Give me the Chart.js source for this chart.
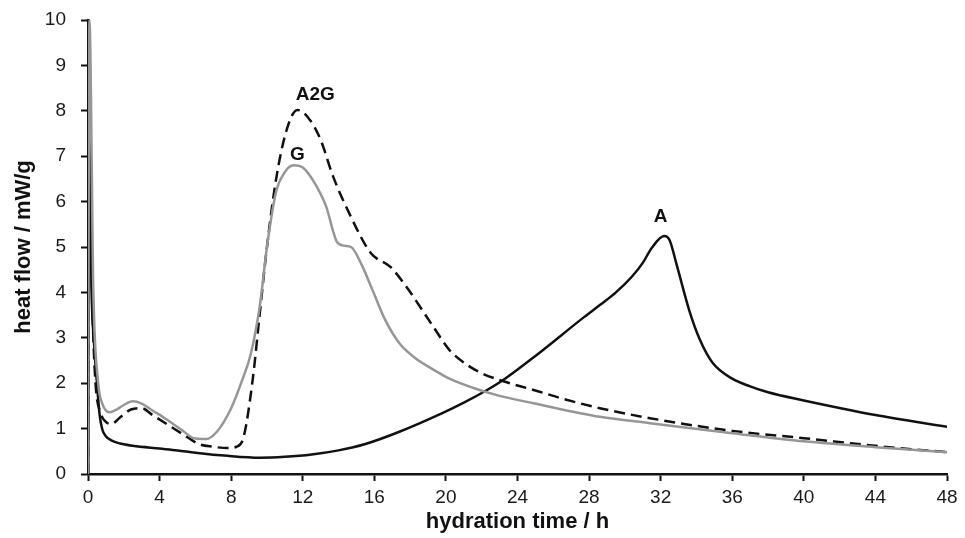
<!DOCTYPE html>
<html lang="en">
<head>
    <meta charset="UTF-8">
    <title>Heat flow vs hydration time</title>
    <script src="https://cdn.jsdelivr.net/npm/chart.js"></script>
    <style>
        body { margin: 0; background: #ffffff; }
        #wrap { width: 965px; height: 538px; }
    </style>
</head>
<body>
    <div id="wrap">
        <canvas id="heatChart" width="965" height="538"></canvas>
    </div>

    <script>
        // G (grey solid)
        const gTime = [0, 0.08, 0.3, 0.57, 0.8, 1.2, 1.6, 2.0, 2.5, 3.0, 3.6, 4.4, 5.2, 6.0, 6.6, 7.2, 8.0, 8.6, 9.1, 9.6, 10.0, 10.5, 11.0, 11.5, 12.0, 12.6, 13.3, 13.9, 14.3, 14.7, 15.3, 15.9, 16.6, 17.4, 18.3, 19.3, 20.2, 21.5, 23, 24.9, 28.6, 31.4, 36, 40, 44, 48];
        const gFlow = [0, 10, 4.0, 2.0, 1.55, 1.36, 1.42, 1.52, 1.6, 1.55, 1.4, 1.2, 0.98, 0.78, 0.77, 0.93, 1.45, 2.05, 2.65, 3.7, 5.0, 6.2, 6.65, 6.8, 6.75, 6.45, 5.9, 5.12, 5.03, 5.0, 4.6, 4.05, 3.4, 2.88, 2.55, 2.3, 2.1, 1.9, 1.72, 1.56, 1.26, 1.12, 0.9, 0.72, 0.59, 0.48];

        // A2G (black dashed)
        const a2gTime = [0, 0.08, 0.25, 0.42, 0.7, 1.0, 1.3, 1.8, 2.4, 3.0, 3.6, 4.4, 5.2, 6.2, 7.0, 7.8, 8.3, 8.7, 9.2, 9.6, 10.0, 10.5, 11.1, 11.7, 12.4, 13.0, 13.7, 14.6, 15.8, 16.9, 17.8, 19.3, 20.2, 21.2, 22.0, 23.0, 24.0, 25.0, 26.5, 28.6, 31.4, 36, 40, 44, 48];
        const a2gFlow = [0, 7.0, 3.6, 2.0, 1.35, 1.15, 1.1, 1.25, 1.42, 1.45, 1.3, 1.1, 0.9, 0.66, 0.6, 0.57, 0.6, 0.82, 2.07, 3.54, 5.0, 6.47, 7.58, 8.02, 7.8, 7.36, 6.55, 5.74, 4.87, 4.56, 4.12, 3.24, 2.73, 2.4, 2.22, 2.07, 1.95, 1.84, 1.66, 1.45, 1.23, 0.95, 0.79, 0.62, 0.48];

        // A (black solid)
        const aTime = [0, 0.06, 0.2, 0.35, 0.5, 0.65, 0.8, 1.0, 1.3, 1.8, 2.5, 4, 5, 6, 7.8, 9.6, 11, 12.5, 14, 15.5, 17.4, 19.8, 21, 22.3, 23.2, 25, 27.7, 28.6, 29.5, 30.4, 31.0, 31.5, 32.2, 32.5, 32.9, 33.6, 34.2, 34.9, 36, 37, 38, 40, 44, 48];
        const aFlow = [0, 7.4, 4.0, 2.8, 2.0, 1.3, 0.98, 0.83, 0.74, 0.67, 0.62, 0.56, 0.52, 0.47, 0.4, 0.36, 0.38, 0.43, 0.52, 0.66, 0.93, 1.34, 1.57, 1.85, 2.07, 2.6, 3.45, 3.72, 4.0, 4.35, 4.65, 4.98, 5.24, 5.15, 4.6, 3.6, 2.95, 2.45, 2.1, 1.93, 1.8, 1.62, 1.3, 1.04];

        // curve labels
        const tagText = ['A2G', 'G', 'A'];
        const tagTime = [12.7, 11.7, 32.0];
        const tagFlow = [8.35, 7.03, 5.66];

        const xTicks = { min: 0, max: 48, step: 4 };
        const yTicks = { min: 0, max: 10, step: 1 };

        function toPoints(xs, ys) {
            return xs.map((x, i) => ({ x: x, y: ys[i] }));
        }

        const curveTags = {
            id: 'curveTags',
            afterDatasetsDraw(chart) {
                const { ctx, scales } = chart;
                ctx.save();
                ctx.font = 'bold 19px "Liberation Sans", Arial, sans-serif';
                ctx.fillStyle = '#111';
                ctx.textAlign = 'center';
                ctx.textBaseline = 'middle';
                tagText.forEach((t, i) => {
                    ctx.fillText(t, scales.x.getPixelForValue(tagTime[i]), scales.y.getPixelForValue(tagFlow[i]));
                });
                ctx.restore();
            }
        };

        const tickFont = { family: '"Liberation Sans", Arial, sans-serif', size: 19 };
        const titleFont = { family: '"Liberation Sans", Arial, sans-serif', size: 22, weight: 'bold' };

        const ctx = document.getElementById('heatChart').getContext('2d');
        const heatChart = new Chart(ctx, {
            type: 'line',
            data: {
                datasets: [
                    {
                        label: 'G',
                        data: toPoints(gTime, gFlow),
                        borderColor: '#969696',
                        borderWidth: 2.5,
                        pointRadius: 0,
                        cubicInterpolationMode: 'monotone',
                        fill: false
                    },
                    {
                        label: 'A2G',
                        data: toPoints(a2gTime, a2gFlow),
                        borderColor: '#111',
                        borderWidth: 2.5,
                        borderDash: [11, 6],
                        pointRadius: 0,
                        cubicInterpolationMode: 'monotone',
                        fill: false
                    },
                    {
                        label: 'A',
                        data: toPoints(aTime, aFlow),
                        borderColor: '#111',
                        borderWidth: 2.5,
                        pointRadius: 0,
                        cubicInterpolationMode: 'monotone',
                        fill: false
                    }
                ]
            },
            options: {
                responsive: false,
                animation: false,
                devicePixelRatio: 1,
                layout: { padding: { left: 0, right: 18, top: 20, bottom: 0 } },
                plugins: {
                    legend: { display: false },
                    tooltip: { enabled: false }
                },
                scales: {
                    x: {
                        type: 'linear',
                        min: xTicks.min,
                        max: xTicks.max,
                        afterFit(scale) {
                            scale.height = 64;
                            scale.paddingLeft = 0;
                            scale.paddingRight = 0;
                        },
                        ticks: { stepSize: xTicks.step, color: '#1a1a1a', font: tickFont, padding: 5, maxRotation: 0 },
                        grid: { drawOnChartArea: false, drawTicks: true, tickLength: 7, tickWidth: 2, tickColor: '#111' },
                        border: { display: true, color: '#111', width: 2.5 },
                        title: { display: true, text: 'hydration time / h', color: '#111', font: titleFont, padding: { top: 0, bottom: 3 } }
                    },
                    y: {
                        min: yTicks.min,
                        max: yTicks.max,
                        afterFit(scale) {
                            scale.width = 88;
                            scale.paddingTop = 0;
                            scale.paddingBottom = 0;
                        },
                        ticks: { stepSize: yTicks.step, color: '#1a1a1a', font: tickFont, padding: 15 },
                        grid: { drawOnChartArea: false, drawTicks: true, tickLength: 7, tickWidth: 2, tickColor: '#111' },
                        border: { display: true, color: '#111', width: 2.5 },
                        title: { display: true, text: 'heat flow / mW/g', color: '#111', font: titleFont, padding: { top: 11, bottom: 0 } }
                    }
                }
            },
            plugins: [curveTags]
        });
    </script>
</body>
</html>
